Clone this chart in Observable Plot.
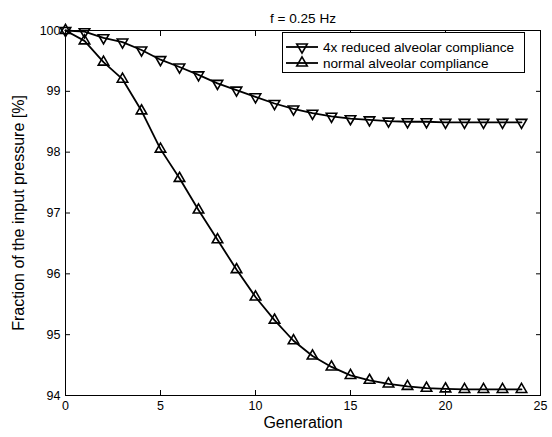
<!DOCTYPE html>
<html>
<head>
<meta charset="utf-8">
<script src="https://cdn.jsdelivr.net/npm/d3@7"></script>
<script src="https://cdn.jsdelivr.net/npm/@observablehq/plot@0.6"></script>
<style>
  html, body { margin: 0; padding: 0; background: white; }
  #wrap { position: relative; width: 552px; height: 437px; font-family: "Liberation Sans", Arial, sans-serif; }
  #legend { position: absolute; left: 282px; top: 32px; width: 243px; height: 41px; border: 1px solid black; background: white; box-sizing: border-box; }
  .row { position: absolute; left: 0; height: 16px; display: flex; align-items: center; font-size: 13.6px; }
  .row svg { display: block; }
</style>
</head>
<body>
<div id="wrap"><div id="chart"></div><div id="legend"></div></div>
<script>
const title = "f = 0.25 Hz";
const xLabel = "Generation";
const yLabel = "Fraction of the input pressure [%]";
const seriesNames = ["4x reduced alveolar compliance", "normal alveolar compliance"];
const generations = [0,1,2,3,4,5,6,7,8,9,10,11,12,13,14,15,16,17,18,19,20,21,22,23,24];
const reduced = [100, 99.98, 99.88, 99.81, 99.68, 99.52, 99.40, 99.27, 99.13, 99.02, 98.91, 98.80, 98.71, 98.64, 98.59, 98.55, 98.53, 98.51, 98.50, 98.50, 98.49, 98.49, 98.49, 98.49, 98.49];
const normal = [100, 99.83, 99.48, 99.20, 98.68, 98.05, 97.57, 97.05, 96.56, 96.07, 95.62, 95.24, 94.90, 94.65, 94.47, 94.33, 94.25, 94.19, 94.15, 94.12, 94.11, 94.10, 94.10, 94.10, 94.10];
const xTicks = [0,5,10,15,20,25];
const yTicks = [94,95,96,97,98,99,100];

const dataReduced = generations.map((g, i) => ({g, v: reduced[i]}));
const dataNormal = generations.map((g, i) => ({g, v: normal[i]}));

const lineW = 1.8, markR = 3.9, markW = 1.6;

const chart = Plot.plot({
  width: 552, height: 437,
  marginLeft: 65, marginRight: 12, marginTop: 30, marginBottom: 42,
  style: {fontFamily: "'Liberation Sans', Arial, sans-serif", fontSize: "12.5px", background: "white", color: "black", overflow: "visible"},
  x: {domain: [0, 25]},
  y: {domain: [94, 100]},
  marks: [
    Plot.frame({stroke: "black", strokeWidth: 1}),
    Plot.axisX({anchor: "bottom", ticks: xTicks, tickSize: -5, tickPadding: 11, label: null, tickFormat: d => String(d)}),
    Plot.axisX({anchor: "top", ticks: xTicks, tickSize: -5, label: null, tickFormat: () => ""}),
    Plot.axisY({anchor: "left", ticks: yTicks, tickSize: -5, tickPadding: 10, label: null, tickFormat: d => String(d)}),
    Plot.axisY({anchor: "right", ticks: yTicks, tickSize: -5, label: null, tickFormat: () => ""}),
    Plot.line(dataReduced, {x: "g", y: "v", stroke: "black", strokeWidth: lineW}),
    Plot.dot(dataReduced, {x: "g", y: "v", symbol: "triangle", rotate: 180, r: markR, stroke: "black", strokeWidth: markW, fill: "none"}),
    Plot.line(dataNormal, {x: "g", y: "v", stroke: "black", strokeWidth: lineW}),
    Plot.dot(dataNormal, {x: "g", y: "v", symbol: "triangle", r: markR, stroke: "black", strokeWidth: markW, fill: "none"}),
    Plot.text([title], {frameAnchor: "top", dy: -17, fontSize: 13.6}),
    Plot.text([xLabel], {frameAnchor: "bottom", dy: 32, fontSize: 16}),
    Plot.text([yLabel], {frameAnchor: "left", textAnchor: "middle", dx: -47, rotate: -90, fontSize: 16})
  ]
});
document.getElementById("chart").appendChild(chart);

// legend
const legend = d3.select("#legend");
const symbolPath = d3.symbol(d3.symbolTriangle, Math.PI * markR * markR)();
seriesNames.forEach((name, i) => {
  const row = legend.append("div").attr("class", "row").style("top", (i === 0 ? 6 : 22) + "px");
  const svg = row.append("svg").attr("width", 40).attr("height", 16);
  svg.append("line").attr("x1", 3).attr("x2", 35).attr("y1", 8).attr("y2", 8).attr("stroke", "black").attr("stroke-width", lineW);
  svg.append("path").attr("d", symbolPath)
    .attr("transform", `translate(19,8) rotate(${i === 0 ? 180 : 0})`)
    .attr("fill", "none").attr("stroke", "black").attr("stroke-width", markW);
  row.append("span").text(name);
});
</script>
</body>
</html>
